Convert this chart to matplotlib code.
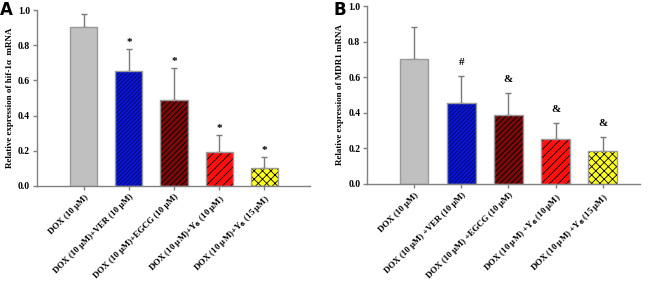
import matplotlib
matplotlib.use("Agg")
import matplotlib.pyplot as plt

plt.rcParams["font.family"] = ["Liberation Serif", "DejaVu Serif"]
plt.rcParams["font.weight"] = "bold"
plt.rcParams["hatch.linewidth"] = 0.6
plt.rcParams["mathtext.default"] = "bf"

# data
labels_a = ["DOX (10 μM)", "DOX (10 μM)+VER (10 μM)", "DOX (10 μM)+EGCG (10 μM)",
            "DOX (10 μM)+Y$_6$ (10 μM)", "DOX (10 μM)+Y$_6$ (15 μM)"]
labels_b = ["DOX (10 μM)", "DOX (10 μM) +VER (10 μM)", "DOX (10 μM) +EGCG (10 μM)",
            "DOX (10 μM) +Y$_6$ (10 μM)", "DOX (10 μM) +Y$_6$ (15 μM)"]
hif_mean = [0.905, 0.655, 0.49, 0.195, 0.10]
hif_err = [0.07, 0.125, 0.18, 0.095, 0.065]
hif_marks = ["", "*", "*", "*", "*"]
mdr_mean = [0.705, 0.457, 0.385, 0.253, 0.187]
mdr_err = [0.175, 0.15, 0.125, 0.09, 0.076]
mdr_marks = ["", "#", "&", "&", "&"]

colors = ["#c0c0c0", "#0a18d0", "#7a0a0a", "#ff1010", "#ffff20"]
hatch_colors = ["black", "#000070", "black", "black", "black"]
hatches = ["", "////////", "//////", "////", "xxxx"]

fig = plt.figure(figsize=(6.5, 2.87), dpi=100)
ax_a = fig.add_axes([0.057, 0.352, 0.42, 0.613])
ax_b = fig.add_axes([0.565, 0.359, 0.42, 0.620])


def draw(ax, means, errs, marks, labels, ylabel, xlim):
    x = list(range(len(means)))
    for i in x:
        ax.bar(i, means[i], width=0.6, color=colors[i], edgecolor=hatch_colors[i],
               hatch=hatches[i], linewidth=0, zorder=2)
        ax.bar(i, means[i], width=0.6, color="none", edgecolor="#9a9a9a",
               linewidth=1.0, zorder=3)
    ax.errorbar(x, means, yerr=[[0] * len(errs), errs], fmt="none",
                ecolor="#7a7a7a", elinewidth=1.0, capsize=2.5, capthick=1.0, zorder=1)
    for i in x:
        if marks[i]:
            off = 0.01 if marks[i] == "*" else 0.05
            ax.text(i, means[i] + errs[i] + off, marks[i], ha="center", va="bottom",
                    fontsize=8, fontweight="bold")
    ax.set_xlim(*xlim)
    ax.set_ylim(0, 1.0)
    ax.set_yticks([0.0, 0.2, 0.4, 0.6, 0.8, 1.0])
    ax.set_yticklabels(["0.0", "0.2", "0.4", "0.6", "0.8", "1.0"], fontsize=7, fontweight="bold")
    ax.set_xticks(x)
    ax.set_xticklabels(labels, rotation=45, ha="right", rotation_mode="anchor",
                       fontsize=6.4, fontweight="bold")
    ax.set_ylabel(ylabel, fontsize=6.5, fontweight="bold", labelpad=3)
    for s in ["top", "right"]:
        ax.spines[s].set_visible(False)
    for s in ["left", "bottom"]:
        ax.spines[s].set_color("#808080")
        ax.spines[s].set_linewidth(1.0)
    ax.tick_params(axis="both", colors="#808080", labelcolor="black", length=3, width=1.0, pad=2)


draw(ax_a, hif_mean, hif_err, hif_marks, labels_a, "Relative expression of hif-1α  mRNA", (-1.04, 5.02))
draw(ax_b, mdr_mean, mdr_err, mdr_marks, labels_b, "Relative expression of MDR1 mRNA", (-1.0, 4.8))

fig.text(0.0, 0.995, "A", fontsize=12, fontweight="bold", family="DejaVu Sans", va="top")
fig.text(0.513, 0.995, "B", fontsize=12, fontweight="bold", family="DejaVu Sans", va="top")

fig.savefig("out.png", dpi=100)
